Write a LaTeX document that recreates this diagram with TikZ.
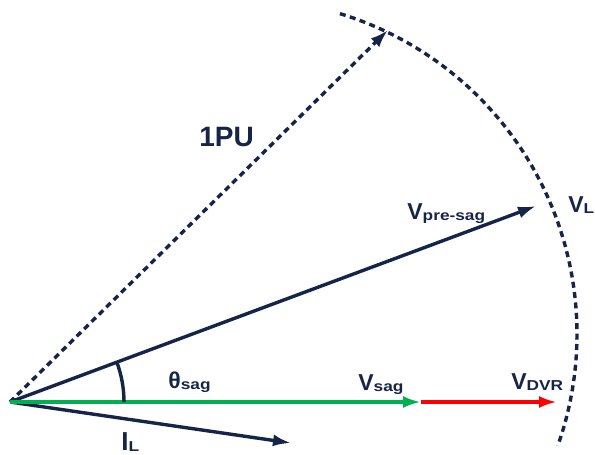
\documentclass[tikz,border=0pt]{standalone}
\usepackage{fontspec}
\setmainfont{Liberation Sans}
\usepackage{tikz}
\usetikzlibrary{arrows.meta, positioning, calc}
\definecolor{navy}{RGB}{22, 36, 71}
\definecolor{sagline}{RGB}{0, 176, 80}
\definecolor{dvrline}{RGB}{255, 0, 0}
\newcommand{\phsub}[1]{\raisebox{-0.6pt}{\scalebox{1.2}[1]{\fontsize{7.2}{8}\selectfont #1}}}
\tikzset{
  font=\bfseries\fontsize{11.5}{13}\selectfont,
  phasor/.style={
    draw=navy, line width=1.7pt, -{Latex[length=9pt, width=6pt]}
  },
  dashphasor/.style={
    phasor, dash pattern=on 3pt off 2.2pt
  },
  greenphasor/.style={phasor, draw=sagline, -{Latex[length=9pt, width=6pt, fill=sagline]}},
  redphasor/.style={phasor, draw=dvrline, -{Latex[length=9pt, width=6pt, fill=dvrline]}},
  locus/.style={draw=navy, line width=1.7pt, dash pattern=on 3pt off 2.2pt},
  lbl/.style={text=navy, inner sep=0pt, anchor=base west}
}
\begin{document}
\begin{tikzpicture}[x=0.5pt, y=-0.5pt]
  \useasboundingbox (0,0) rectangle (595,455);

  % phasor end points
  \coordinate (origin) at (10,402);
  \coordinate (pu) at (388,30);
  \coordinate (presag) at (536,206);
  \coordinate (sag) at (421,402);
  \coordinate (dvr) at (557,402);
  \coordinate (load) at (291,443);
  \coordinate (centre) at (242,334);

  % locus of the load voltage
  \draw[locus] (centre) ++(-73:335) arc[start angle=-73, end angle=19.5, radius=335];

  \draw[dashphasor] (origin) -- (pu);
  \draw[phasor] (origin) -- (presag);
  \draw[phasor] (origin) -- (load);
  \draw[greenphasor] (origin) -- (sag);
  \draw[redphasor] (sag) -- (dvr);

  % sag angle
  \draw[draw=navy, line width=1.7pt] ($(origin)+(114,0)$) arc[start angle=0, end angle=-20.4, radius=114];

  \node[lbl, font=\bfseries\fontsize{14}{16}\selectfont] (lpu) at (199,146) {1PU};
  \node[lbl] (lpresag) at (407,219) {V\phsub{pre-sag}};
  \node[lbl] (lvl) at (568,212) {V\phsub{L}};
  \node[lbl] (ltheta) at (168,388) {θ\phsub{sag}};
  \node[lbl] (lsag) at (358,390) {V\phsub{sag}};
  \node[lbl] (ldvr) at (511,389) {V\phsub{DVR}};
  \node[lbl, font=\bfseries\fontsize{13}{15}\selectfont] (lload) at (121,450) {I\phsub{L}};
\end{tikzpicture}
\end{document}
